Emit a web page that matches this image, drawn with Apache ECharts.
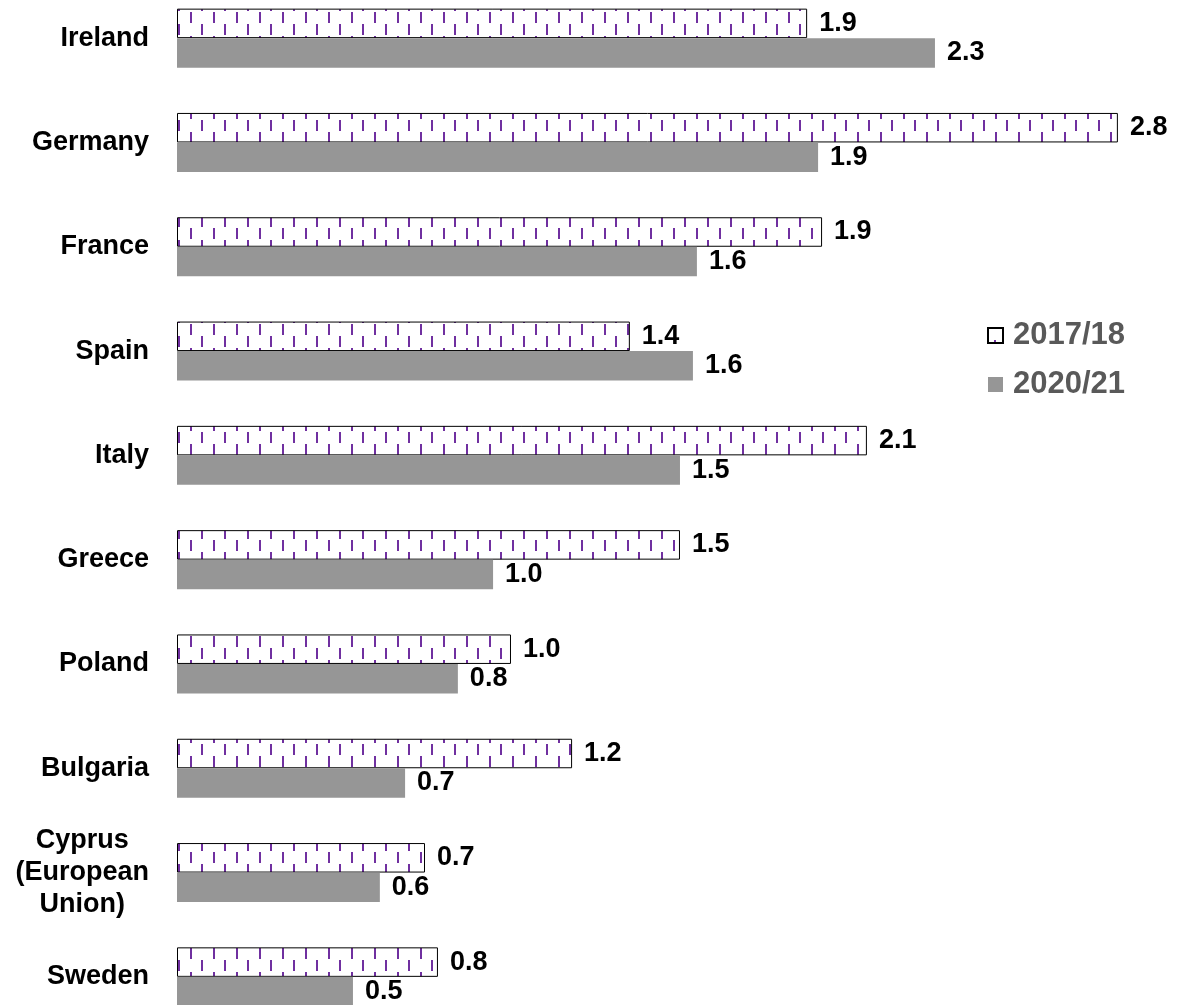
<!DOCTYPE html>
<html>
<head>
<meta charset="utf-8">
<script src="https://cdn.jsdelivr.net/npm/echarts@6/dist/echarts.min.js"></script>
<style>
html,body{margin:0;padding:0;background:#fff;}
#main{width:1178px;height:1005px;}
</style>
</head>
<body>
<div id="main"></div>
<script>
const categories = ['Ireland', 'Germany', 'France', 'Spain', 'Italy', 'Greece', 'Poland', 'Bulgaria', 'Cyprus\n(European\nUnion)', 'Sweden'];
const seriesNames = ['2017/18', '2020/21'];
const values2017 = [1.898, 2.834, 1.943, 1.364, 2.078, 1.515, 1.006, 1.190, 0.747, 0.786];
const values2020 = [2.283, 1.931, 1.566, 1.554, 1.515, 0.952, 0.846, 0.687, 0.611, 0.530];

function makePattern() {
  const c = document.createElement('canvas');
  c.width = 23; c.height = 24;
  const ctx = c.getContext('2d');
  ctx.fillStyle = '#ffffff';
  ctx.fillRect(0, 0, 23, 24);
  ctx.fillStyle = '#7030A0';
  ctx.fillRect(17, 0, 2, 11);
  ctx.fillRect(6, 12, 2, 11);
  return c;
}
const pattern = makePattern();

const font = '"Liberation Sans", Arial, sans-serif';
const chart = echarts.init(document.getElementById('main'), null, {renderer: 'canvas'});

const labelStyle = {
  show: true,
  position: 'right',
  distance: 12,
  color: '#000',
  fontFamily: font,
  fontWeight: 'bold',
  fontSize: 27,
  formatter: p => p.value.toFixed(1)
};

chart.setOption({
  animation: false,
  backgroundColor: '#ffffff',
  grid: {left: 177, top: -14, width: 996, height: 1043, containLabel: false, outerBoundsMode: 'none'},
  legend: {
    orient: 'vertical',
    left: 982,
    top: 315,
    icon: 'rect',
    itemWidth: 15,
    itemHeight: 15,
    itemGap: 18,
    textStyle: {color: '#595959', fontFamily: font, fontWeight: 'bold', fontSize: 31, padding: [0, 0, 0, 5]},
    data: seriesNames
  },
  xAxis: {
    type: 'value',
    min: 0,
    max: 3,
    show: false,
    splitLine: {show: false}
  },
  yAxis: {
    type: 'category',
    inverse: true,
    data: categories,
    axisLine: {show: false},
    axisTick: {show: false},
    splitLine: {show: false},
    axisLabel: {
      margin: 28,
      color: '#000',
      fontFamily: font,
      fontWeight: 'bold',
      fontSize: 27,
      lineHeight: 32,
      formatter: function (v) {
        if (v.indexOf('\n') >= 0) {
          return v.split('\n').map(s => '{c|' + s + '}').join('\n');
        }
        return v;
      },
      rich: {
        c: {align: 'center', color: '#000', fontFamily: font, fontWeight: 'bold', fontSize: 27, lineHeight: 32}
      }
    }
  },
  series: [
    {
      name: seriesNames[0],
      type: 'bar',
      data: values2017,
      barWidth: 29.5,
      barGap: '0%',
      itemStyle: {color: {image: pattern, repeat: 'repeat'}, borderColor: '#000', borderWidth: 1},
      label: labelStyle
    },
    {
      name: seriesNames[1],
      type: 'bar',
      data: values2020,
      barWidth: 29.5,
      barGap: '0%',
      itemStyle: {color: '#969696'},
      label: labelStyle
    }
  ]
});
</script>
</body>
</html>
